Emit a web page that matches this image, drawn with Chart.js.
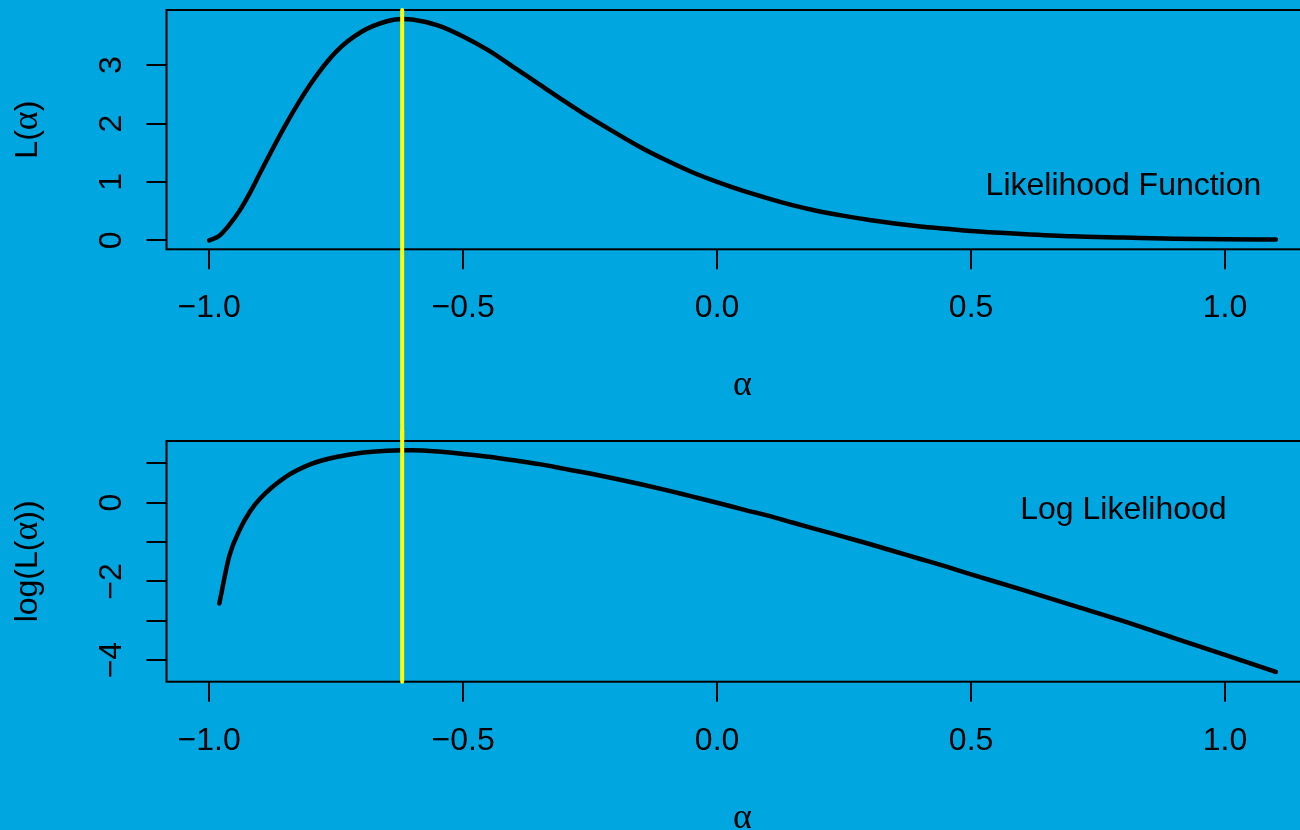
<!DOCTYPE html>
<html>
<head>
<meta charset="utf-8">
<script src="https://cdn.jsdelivr.net/npm/chart.js@4.4.1/dist/chart.umd.min.js"></script>
<style>
  html, body { margin: 0; padding: 0; width: 1300px; height: 830px; overflow: hidden; background: #00A6E0; }
  canvas { position: absolute; left: 0; }
  #top { top: 0; }
  #bottom { top: 430px; }
</style>
</head>
<body>
<canvas id="top" width="1340" height="441"></canvas>
<canvas id="bottom" width="1340" height="400"></canvas>
<script>
// ---------- data ----------
const alpha = [-1.00, -0.98, -0.96, -0.94, -0.92, -0.90, -0.85, -0.80, -0.75, -0.70,
               -0.65, -0.62, -0.60, -0.55, -0.50, -0.45, -0.40, -0.35, -0.30, -0.25,
               -0.20, -0.15, -0.10, -0.05, 0.00, 0.05, 0.10, 0.15, 0.20, 0.25,
               0.30, 0.35, 0.40, 0.45, 0.50, 0.60, 0.70, 0.80, 0.90, 1.00, 1.10];
const likelihood = [0.00, 0.08, 0.27, 0.51, 0.81, 1.15, 1.97, 2.68, 3.23, 3.57,
                    3.75, 3.79, 3.78, 3.68, 3.49, 3.25, 2.96, 2.67, 2.38, 2.10,
                    1.84, 1.59, 1.37, 1.17, 1.00, 0.85, 0.72, 0.60, 0.50, 0.42,
                    0.35, 0.29, 0.24, 0.20, 0.16, 0.11, 0.07, 0.05, 0.03, 0.02, 0.015];
const logLikelihood = [null, -2.56, -1.34, -0.69, -0.23, 0.10, 0.65, 0.98, 1.16, 1.27,
                       1.32, 1.33, 1.33, 1.30, 1.24, 1.17, 1.08, 0.98, 0.86, 0.74,
                       0.61, 0.47, 0.32, 0.16, 0.00, -0.17, -0.33, -0.51, -0.69, -0.87,
                       -1.05, -1.24, -1.43, -1.62, -1.82, -2.21, -2.61, -3.01, -3.44, -3.87, -4.30];
const mleAlpha = -0.62;

const xTicks = [-1, -0.5, 0, 0.5, 1];
const xTickLabels = ['\u22121.0', '\u22120.5', '0.0', '0.5', '1.0'];
const lTicks = [0, 1, 2, 3];
const lTickLabels = ['0', '1', '2', '3'];
const logTicks = [1, 0, -1, -2, -3, -4];
const logTickLabels = ['', '0', '', '\u22122', '', '\u22124'];

const xRange = [-1.084, 1.184];
const lRange = [-0.152, 3.942];
const logRange = [-4.549, 1.568];

const topNote = { text: 'Likelihood Function', x: 0.8, y: 0.98 };
const bottomNote = { text: 'Log Likelihood', x: 0.8, y: -0.135 };

// ---------- styling ----------
const SANS = '"Liberation Sans", Arial, Helvetica, sans-serif';
const SERIF = '"Liberation Serif", "Times New Roman", serif';
const FS = 32;
const GREEK_FS = 36;

function drawRich(ctx, segs) {
  const fontOf = fam => (fam === SERIF ? GREEK_FS : FS) + 'px ' + fam;
  const widths = segs.map(([t, fam]) => { ctx.font = fontOf(fam); return ctx.measureText(t).width; });
  const total = widths.reduce((s, w) => s + w, 0);
  let x = -total / 2;
  ctx.textAlign = 'left';
  ctx.textBaseline = 'alphabetic';
  segs.forEach(([t, fam], i) => { ctx.font = fontOf(fam); ctx.fillText(t, x, 0); x += widths[i]; });
}

function makePlugin(cfg) {
  return {
    id: 'rStyle',
    afterDraw(chart) {
      const { ctx, chartArea: a } = chart;
      const xs = chart.scales.x, ys = chart.scales.y;
      ctx.save();
      // box
      ctx.strokeStyle = '#000';
      ctx.lineWidth = 2;
      ctx.strokeRect(a.left, a.top, a.right - a.left, a.bottom - a.top);
      ctx.fillStyle = '#000';
      // rotated y tick labels
      ctx.font = FS + 'px ' + SANS;
      ctx.textAlign = 'center';
      ctx.textBaseline = 'alphabetic';
      cfg.yTicks.forEach((v, i) => {
        const lab = cfg.yTickLabels[i];
        if (!lab) return;
        ctx.save();
        ctx.translate(a.left - 46, ys.getPixelForValue(v));
        ctx.rotate(-Math.PI / 2);
        ctx.fillText(lab, 0, 0);
        ctx.restore();
      });
      // y title
      ctx.save();
      ctx.translate(a.left - 130, (a.top + a.bottom) / 2);
      ctx.rotate(-Math.PI / 2);
      drawRich(ctx, cfg.yTitle);
      ctx.restore();
      // x title
      ctx.save();
      ctx.translate((a.left + a.right) / 2, a.bottom + 146);
      drawRich(ctx, [['\u03b1', SERIF]]);
      ctx.restore();
      // annotation text
      ctx.font = FS + 'px ' + SANS;
      ctx.textAlign = 'center';
      ctx.textBaseline = 'alphabetic';
      ctx.fillText(cfg.note.text, xs.getPixelForValue(cfg.note.x), ys.getPixelForValue(cfg.note.y) + 0.358 * FS);
      // yellow vertical line at the maximum
      const px = xs.getPixelForValue(mleAlpha);
      ctx.strokeStyle = '#FFFF00';
      ctx.lineWidth = 4;
      ctx.lineCap = 'round';
      ctx.beginPath();
      if (cfg.vDir === 'down') { ctx.moveTo(px, a.top); ctx.lineTo(px, chart.height + 5); }
      else { ctx.moveTo(px, -5); ctx.lineTo(px, a.bottom); }
      ctx.stroke();
      ctx.restore();
    }
  };
}

function makeChart(id, values, cfg) {
  const tickGrid = { display: true, drawOnChartArea: false, drawTicks: true, tickLength: 20, color: '#000', lineWidth: 2 };
  return new Chart(document.getElementById(id), {
    type: 'line',
    data: {
      datasets: [{
        data: alpha.map((a, i) => ({ x: a, y: values[i] })),
        borderColor: '#000',
        borderWidth: 4.5,
        pointRadius: 0,
        fill: false,
        cubicInterpolationMode: 'monotone',
        borderCapStyle: 'round',
        borderJoinStyle: 'round'
      }]
    },
    options: {
      responsive: false,
      animation: false,
      events: [],
      layout: { padding: { left: 0, right: 21.5, top: cfg.padTop, bottom: 0 } },
      plugins: { legend: { display: false }, tooltip: { enabled: false }, title: { display: false } },
      scales: {
        x: {
          type: 'linear', position: 'bottom', min: xRange[0], max: xRange[1],
          afterBuildTicks: s => { s.ticks = xTicks.map(v => ({ value: v })); },
          afterFit: s => { s.height = cfg.xAxisH; },
          grid: tickGrid,
          border: { display: false },
          ticks: {
            autoSkip: false, maxRotation: 0, minRotation: 0, padding: 0, color: '#000',
            font: { family: SANS, size: FS, lineHeight: 2.44 },
            callback: (v, i) => xTickLabels[i]
          }
        },
        y: {
          type: 'linear', position: 'left', min: cfg.yRange[0], max: cfg.yRange[1],
          afterBuildTicks: s => { s.ticks = cfg.yTicks.map(v => ({ value: v })); },
          afterFit: s => { s.width = 166.5; },
          grid: tickGrid,
          border: { display: false },
          ticks: { display: false }
        }
      }
    },
    plugins: [makePlugin(cfg)]
  });
}

makeChart('top', likelihood, {
  padTop: 10, xAxisH: 191.7, yRange: lRange, yTicks: lTicks, yTickLabels: lTickLabels,
  yTitle: [['L(', SANS], ['\u03b1', SERIF], [')', SANS]], note: topNote, vDir: 'down'
});
makeChart('bottom', logLikelihood, {
  padTop: 11, xAxisH: 148.3, yRange: logRange, yTicks: logTicks, yTickLabels: logTickLabels,
  yTitle: [['log(L(', SANS], ['\u03b1', SERIF], ['))', SANS]], note: bottomNote, vDir: 'up'
});
</script>
</body>
</html>
